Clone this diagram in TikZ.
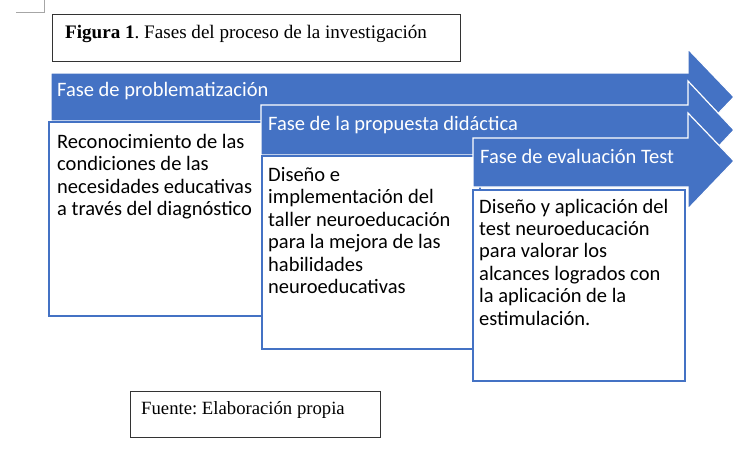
\documentclass[tikz,border=0pt]{standalone}
\usepackage{fontspec}
\setmainfont{Liberation Serif}
\newfontfamily\calibri{Carlito}
\definecolor{accent}{HTML}{4472C4}
\frenchspacing
\begin{document}
\begin{tikzpicture}[x=1pt,y=-1pt,
  phase/.style={fill=accent, draw=white, line width=1.2pt, line join=miter},
  detail/.style={fill=white, draw=accent, line width=1.6pt},
  headtxt/.style={font=\calibri\fontsize{20.5}{22.4}\selectfont, text=white, anchor=base west, inner sep=0pt},
  bodytxt/.style={font=\calibri\fontsize{20.5}{22.4}\selectfont, anchor=base west, align=left, inner sep=0pt},
  frame/.style={draw=black!80, line width=0.9pt},
  cornermark/.style={draw=black!35, line width=0.6pt},
  serif/.style={anchor=base west, inner sep=0pt}
]
\useasboundingbox (0,0) rectangle (737,451);
\fill[white] (0,0) rectangle (737,451);
% corner mark
\coordinate (cmA) at (16,12);
\coordinate (cmB) at (44,12);
\coordinate (cmC) at (44,0);
\draw[cornermark] (cmA) -- (cmB) -- (cmC);
% title box
\draw[frame] (52,14) rectangle (460,61);
\node[serif, font=\fontsize{19.1}{21}\selectfont] (title) at (65,38) {\textbf{Figura 1}. Fases del proceso de la investigación};
% arrow 1
\draw[phase] (51,73) -- (688,73) -- (688,49) -- (734,97) -- (688,145) -- (688,121) -- (51,121) -- cycle;
\node[headtxt] (h1) at (57,96.5) {Fase de problematización};
\draw[detail] (49,122) rectangle (270,316);
\node[bodytxt] (b1) at (57,215.5) {Reconocimiento de las\\condiciones de las\\necesidades educativas\\a través del diagnóstico};
% arrow 2
\draw[phase] (261,105) -- (688,105) -- (688,81) -- (734,130) -- (688,179) -- (688,155) -- (261,155) -- cycle;
\node[headtxt] (h2) at (268,130) {Fase de la propuesta didáctica};
\draw[detail] (262,156) rectangle (480,349);
\node[bodytxt] (b2) at (268,293.5) {Diseño e\\implementación del\\taller neuroeducación\\para la mejora de las\\habilidades\\neuroeducativas};
% arrow 3
\draw[phase] (473,138) -- (688,138) -- (688,113) -- (734,161) -- (688,209) -- (688,187) -- (473,187) -- cycle;
\node[headtxt] (h3) at (480,163) {Fase de evaluación Test};
\draw[detail] (473,190) rectangle (685,381);
\node[bodytxt] (b3) at (479,325) {Diseño y aplicación del\\test neuroeducación\\para valorar los\\alcances logrados con\\la aplicación de la\\estimulación.};
% source box
\draw[frame] (130,391) rectangle (380,437);
\node[serif, font=\fontsize{18.7}{20}\selectfont] (src) at (141,414) {Fuente: Elaboración propia};
\end{tikzpicture}
\end{document}
